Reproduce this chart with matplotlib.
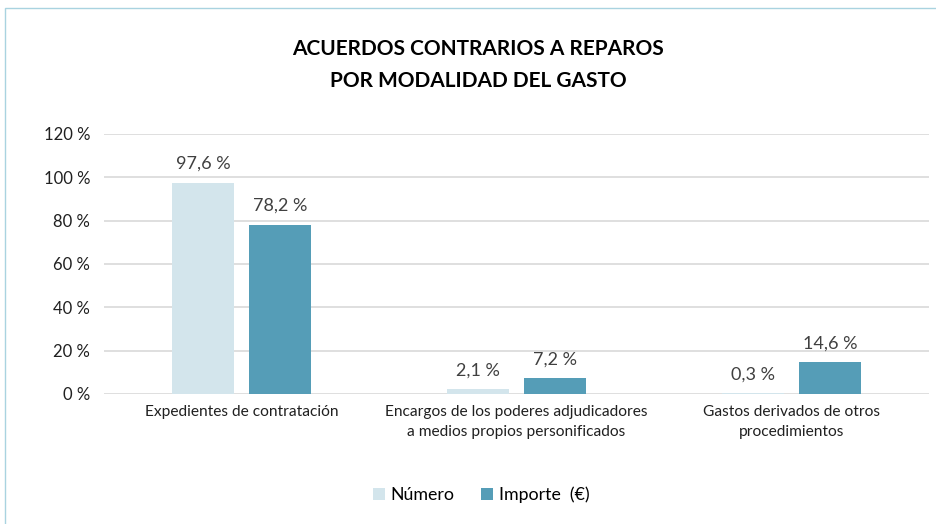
import matplotlib.pyplot as plt
import numpy as np
from matplotlib.patches import Rectangle

plt.rcParams['font.family'] = ['Lato', 'DejaVu Sans']

# data
categorias = ["Expedientes de contratación",
              "Encargos de los poderes adjudicadores\na medios propios personificados",
              "Gastos derivados de otros\nprocedimientos"]
numero = [97.6, 2.1, 0.3]
importe = [78.2, 7.2, 14.6]
series_names = ["Número", "Importe  (€)"]
yticks = [0, 20, 40, 60, 80, 100, 120]

W, H = 936, 524
fig = plt.figure(figsize=(W / 100, H / 100), dpi=100)

# light blue frame around the chart
fig.patches.append(Rectangle((5 / W, -0.05), 1.1, 1 - 8 / H + 0.05, transform=fig.transFigure,
                             fill=False, edgecolor='#A9D3E0', linewidth=1.0))

ax = fig.add_axes([104 / W, 1 - 394 / H, (929 - 104) / W, (394 - 134) / H])

x = np.arange(len(categorias))
bw = 0.222
off = 0.14
c_num = '#D3E5EC'
c_imp = '#559DB7'
b1 = ax.bar(x - off, numero, bw, color=c_num, label=series_names[0], zorder=3)
b2 = ax.bar(x + off, importe, bw, color=c_imp, label=series_names[1], zorder=3)

for bars, vals in [(b1, numero), (b2, importe)]:
    for b, v in zip(bars, vals):
        ax.annotate(f"{v:.1f} %".replace('.', ','), (b.get_x() + b.get_width() / 2, v),
                    xytext=(0, 8), textcoords='offset points', ha='center', va='bottom',
                    fontsize=13, color='#404040')

ax.set_xlim(-0.5, 2.5)
ax.set_ylim(0, 120)
ax.set_yticks(yticks)
ax.set_yticklabels([f"{t} %" for t in yticks], fontsize=12, color='#202020')
ax.set_xticks(x)
ax.set_xticklabels(categorias, fontsize=11.2, color='#202020', linespacing=1.5)
ax.tick_params(length=0)
ax.tick_params(axis='y', pad=10)
ax.tick_params(axis='x', pad=8)
ax.grid(axis='y', color='#D9D9D9', linewidth=1.2, zorder=0)
for s in ax.spines.values():
    s.set_visible(False)

fig.text(478 / W, 1 - 49 / H, "ACUERDOS CONTRARIOS A REPAROS", ha='center', va='center',
         fontsize=15, fontweight='bold', color='#000000')
fig.text(478 / W, 1 - 81 / H, "POR MODALIDAD DEL GASTO", ha='center', va='center',
         fontsize=15, fontweight='bold', color='#000000')

fig.legend(handles=[b1, b2], loc='center', bbox_to_anchor=(481 / W, 1 - 495 / H), ncol=2,
           frameon=False, fontsize=12.8, handlelength=0.7, handleheight=0.7,
           handletextpad=0.3, columnspacing=1.5)

fig.savefig('out.png', dpi=100)
